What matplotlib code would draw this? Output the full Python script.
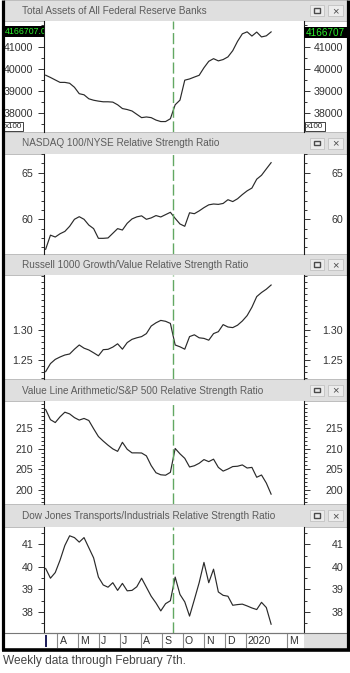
import matplotlib
matplotlib.use('Agg')
import matplotlib.pyplot as plt
import matplotlib.transforms as mtransforms
from matplotlib.patches import Rectangle
from matplotlib.ticker import FixedLocator, MultipleLocator, FormatStrFormatter
import pandas as pd

plt.rcParams['font.family'] = ['Liberation Sans', 'DejaVu Sans']

# ---------------- data ----------------
dates = pd.date_range('2019-03-15', '2020-02-07', freq='7D')  # weekly, 48 points

fed_assets = [39714, 39612, 39500, 39390, 39390, 39350, 39170, 38880, 38830, 38650,
              38585, 38545, 38515, 38515, 38500, 38380, 38210, 38165, 38100, 37950,
              37800, 37830, 37800, 37690, 37623, 37623, 37750, 38380, 38590, 39490,
              39545, 39630, 39710, 40050, 40340, 40460, 40360, 40420, 40540, 40820,
              41240, 41580, 41670, 41480, 41660, 41440, 41490, 41667.07]
nasdaq_nyse = [56.79, 58.3, 58.1, 58.45, 58.7, 59.25, 60.0, 60.28, 60.0, 59.38,
               59.0, 57.96, 57.96, 58.0, 58.5, 59.0, 58.85, 59.57, 60.04, 60.26,
               60.37, 60.0, 60.15, 60.4, 60.25, 60.5, 60.75, 60.1, 59.5, 59.25,
               60.7, 60.6, 60.9, 61.25, 61.55, 61.64, 61.6, 61.7, 62.1, 61.9,
               62.2, 62.65, 63.05, 63.35, 64.3, 64.72, 65.4, 66.07]
russell_gv = [1.2306, 1.244, 1.251, 1.255, 1.2583, 1.260, 1.268, 1.275, 1.2697, 1.2667,
              1.262, 1.257, 1.2672, 1.2678, 1.2715, 1.277, 1.268, 1.279, 1.2844, 1.287,
              1.289, 1.294, 1.3066, 1.312, 1.316, 1.3145, 1.311, 1.275, 1.272, 1.268,
              1.289, 1.292, 1.287, 1.286, 1.283, 1.294, 1.2972, 1.309, 1.305, 1.304,
              1.308, 1.315, 1.324, 1.338, 1.3557, 1.3625, 1.368, 1.375]
valueline_spx = [219.57, 217.1, 216.4, 217.8, 218.92, 218.5, 217.6, 217.0, 217.4, 216.9,
                 214.9, 213.0, 211.9, 210.9, 210.0, 209.4, 211.6, 209.9, 209.03, 209.03,
                 209.0, 208.3, 205.94, 204.2, 203.7, 203.6, 204.3, 210.1, 208.8, 207.7,
                 205.6, 205.9, 206.5, 207.4, 206.9, 207.5, 205.5, 204.6, 205.1, 205.7,
                 205.78, 206.1, 205.35, 205.5, 203.1, 203.65, 201.7, 199.0]
transports_ind = [39.93, 39.5, 39.75, 40.3, 40.95, 41.38, 41.3, 41.1, 41.3, 40.85,
                  40.4, 39.55, 39.2, 39.1, 39.3, 38.96, 39.27, 38.94, 38.96, 39.12,
                  39.5, 39.1, 38.7, 38.4, 38.05, 38.37, 38.5, 39.55, 38.78, 38.45,
                  37.82, 38.55, 39.3, 40.2, 39.3, 39.9, 38.89, 38.74, 38.7, 38.3,
                  38.33, 38.35, 38.27, 38.18, 38.11, 38.43, 38.2, 37.46]

titles = ['Total Assets of All Federal Reserve Banks',
          'NASDAQ 100/NYSE Relative Strength Ratio',
          'Russell 1000 Growth/Value Relative Strength Ratio',
          'Value Line Arithmetic/S&P 500 Relative Strength Ratio',
          'Dow Jones Transports/Industrials Relative Strength Ratio']
series = [fed_assets, nasdaq_nyse, russell_gv, valueline_spx, transports_ind]
ylims = [(37152, 42159), (56.28, 67.0), (1.2183, 1.3917), (196.6, 221.64), (37.07, 41.77)]
major_ticks = [[38000, 39000, 40000, 41000], [60, 65], [1.25, 1.30],
               [200, 205, 210, 215], [38, 39, 40, 41]]
minor_steps = [500, 1, 0.01, 1, 0.5]
tick_fmts = ['%d', '%d', '%.2f', '%d', '%d']

month_dates = pd.to_datetime(['2019-04-01', '2019-05-01', '2019-06-01', '2019-07-01',
                              '2019-08-01', '2019-09-01', '2019-10-01', '2019-11-01',
                              '2019-12-01', '2020-01-01', '2020-03-01'])
month_labels = ['A', 'M', 'J', 'J', 'A', 'S', 'O', 'N', 'D', '2020', 'M']
event_date = pd.Timestamp('2019-09-17')
x_range = (pd.Timestamp('2019-03-12 14:00'), pd.Timestamp('2020-03-26'))
last_value_text = '4166707.0'
caption = 'Weekly data through February 7th.'

# ---------------- layout (pixels) ----------------
W, H = 350, 673
fig = plt.figure(figsize=(W / 100, H / 100), dpi=100, facecolor='white')


def rect(x0, y0, x1, y1):
    return [x0 / W, 1 - y1 / H, (x1 - x0) / W, (y1 - y0) / H]


XL, XR, XE = 44, 304, 347
bars = [(0, 21), (132, 154), (254, 275), (379, 401), (504, 527)]
plots = [(21, 132), (154, 254), (275, 379), (401, 504), (527, 633)]
band = (633, 648)

bg = fig.add_axes([0, 0, 1, 1], zorder=-5)
bg.set_xlim(0, W)
bg.set_ylim(H, 0)
bg.axis('off')

fg = fig.add_axes([0, 0, 1, 1], zorder=20)
fg.set_xlim(0, W)
fg.set_ylim(H, 0)
fg.axis('off')
fg.patch.set_alpha(0)

# title bars
for (y0, y1), t in zip(bars, titles):
    bg.add_patch(Rectangle((4, y0), XE - 4, y1 - y0, fc='#dfdfdf', ec='#b5b5b5', lw=0.6))
    bg.text(22, (y0 + y1) / 2 + 0.5, t, fontsize=7.2, color='#5c5c5c', va='center', ha='left')
    cy = y0 + (y1 - y0) / 2
    bg.add_patch(Rectangle((309.5, cy - 5.5), 14, 11, fc='#ececec', ec='#c2c2c2', lw=0.6))
    bg.add_patch(Rectangle((327.5, cy - 5.5), 15, 11, fc='#ececec', ec='#c2c2c2', lw=0.6))
    bg.add_patch(Rectangle((313.5, cy - 2.2), 6.5, 4.4, fc='none', ec='#4a4a4a', lw=1.0))
    bg.text(335, cy + 0.3, '\u00d7', fontsize=8, color='#4a4a4a', ha='center', va='center')

# x band right gray cell
bg.add_patch(Rectangle((XR, band[0]), XE - XR, band[1] - band[0], fc='#dfdfdf', ec='none'))

# panels
axes = []
for i in range(5):
    y0, y1 = plots[i]
    ax = fig.add_axes(rect(XL, y0, XR, y1), zorder=1)
    ax.plot(dates, series[i], color='#2a2a2a', lw=0.85)
    ax.axvline(event_date, color='#62a862', lw=1.0, ls=(0, (8, 2.6)))
    ax.set_xlim(*x_range)
    ax.set_ylim(*ylims[i])
    ax.set_xticks([])
    for s in ('top', 'bottom'):
        ax.spines[s].set_visible(False)
    for s in ('left', 'right'):
        ax.spines[s].set_color('#1a1a1a')
        ax.spines[s].set_linewidth(0.8)
    ax.yaxis.set_major_locator(FixedLocator(major_ticks[i]))
    ax.yaxis.set_minor_locator(MultipleLocator(minor_steps[i]))
    ax.yaxis.set_major_formatter(FormatStrFormatter(tick_fmts[i]))
    ax.tick_params(axis='y', which='both', direction='out', left=True, right=False,
                   labelleft=True, labelright=False, colors='#333333', width=0.7)
    ax.tick_params(axis='y', which='major', length=4.3, pad=3.4, labelsize=7.7)
    ax.tick_params(axis='y', which='minor', length=2.2)

    tw = ax.twinx()
    tw.set_zorder(2)
    tw.patch.set_visible(False)
    tw.set_ylim(*ylims[i])
    tw.set_xlim(*x_range)
    for s in ('top', 'bottom', 'left', 'right'):
        tw.spines[s].set_visible(False)
    tw.yaxis.set_major_locator(FixedLocator(major_ticks[i]))
    tw.yaxis.set_minor_locator(MultipleLocator(minor_steps[i]))
    tw.yaxis.set_major_formatter(FormatStrFormatter(tick_fmts[i]))
    tw.tick_params(axis='y', which='both', direction='out', right=True, labelright=True,
                   colors='#333333', width=0.7)
    tw.tick_params(axis='y', which='major', length=4.3, pad=24.0, labelsize=7.7)
    tw.tick_params(axis='y', which='minor', length=2.2)
    for t in tw.yaxis.get_major_ticks():
        t.label2.set_horizontalalignment('right')
    axes.append(ax)

# x band with month separators
axb = fig.add_axes(rect(XL, band[0], XR, band[1]), zorder=1)
axb.set_xlim(*x_range)
axb.set_ylim(0, 1)
axb.set_xticks([])
axb.set_yticks([])
for s in ('left', 'right', 'bottom'):
    axb.spines[s].set_visible(False)
axb.spines['top'].set_color('#777777')
axb.spines['top'].set_linewidth(0.8)
axb.vlines(month_dates, 0, 1, color='#8a8a8a', lw=0.8)
axb.vlines([dates[0]], 0.1, 0.9, color='#1c1c5a', lw=1.4)
off = mtransforms.offset_copy(axb.get_xaxis_transform(), fig=fig, x=2.2, y=0, units='dots')
for d, lab in zip(month_dates, month_labels):
    axb.text(d, 0.45, lab, transform=off, fontsize=7.6, color='#333333', ha='left', va='center')
# band top line across full width
fg.plot([4, XE], [band[0], band[0]], color='#777777', lw=0.8)

# green last-value boxes
lb = Rectangle((4, 26), XL - 4, 11, fc='black', ec='none')
rb = Rectangle((XR, 27), XE - XR, 11, fc='black', ec='none')
fg.add_patch(lb)
fg.add_patch(rb)
t1 = fg.text(4.5, 31.8, last_value_text, fontsize=6.3, color='#2bef2b', ha='left',
             va='center', clip_on=True)
t1.set_clip_path(lb)
t2 = fg.text(306, 32.8, last_value_text.split('.')[0], fontsize=7.2, color='#2bef2b',
             ha='left', va='center', clip_on=True)
t2.set_clip_path(rb)

# x100 boxes
for bx in (3.5, 305):
    fg.add_patch(Rectangle((bx, 122), 19.5, 9, fc='white', ec='#222222', lw=0.6))
    fg.text(bx + 1.0, 126.8, 'x100', fontsize=5.8, color='#222222', ha='left', va='center')

# outer frame
fg.plot([2.5, 2.5], [0, 650], color='black', lw=2.3, solid_capstyle='butt')
fg.plot([348.3, 348.3], [0, 650], color='black', lw=2.3, solid_capstyle='butt')
fg.plot([1.5, 349.5], [649.8, 649.8], color='black', lw=2.6, solid_capstyle='butt')

# caption
bg.text(3, 661, caption, fontsize=8.6, color='#444444', ha='left', va='center')

fig.savefig('out.png', dpi=100, facecolor='white')
